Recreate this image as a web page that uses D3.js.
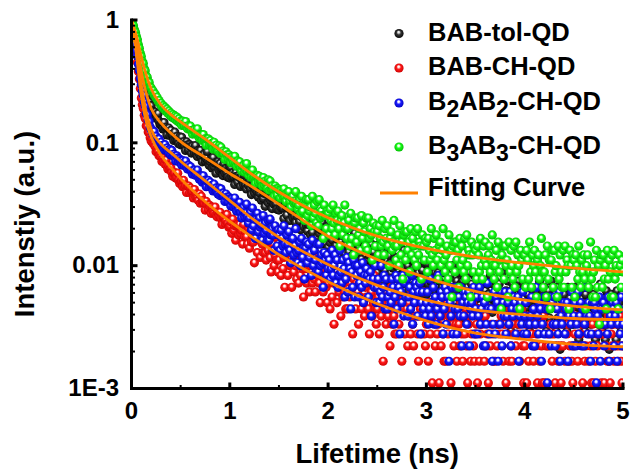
<!DOCTYPE html>
<html>
<head>
<meta charset="utf-8">
<script src="https://cdn.jsdelivr.net/npm/d3@7"></script>
<style>
body { margin: 0; background: #fff; }
svg text { font-family: "Liberation Sans", Arial, sans-serif; font-weight: bold; fill: #000; }
</style>
</head>
<body>
<svg id="chart" width="631" height="469"></svg>
<script>
// TCSPC channels, one every 0.01 ns from 0 to 5 ns
const timeNs = d3.range(501).map(i => +(i * 0.01).toFixed(2))

// photon counts per channel (first channel = peak)
const babTolCounts = [
  2400, 2205, 2051, 1853, 1707, 1539, 1399, 1246, 1133, 1009,
  917, 834, 778, 705, 661, 597, 575, 534, 515, 479,
  480, 436, 404, 428, 426, 382, 388, 415, 360, 337,
  342, 351, 311, 351, 309, 320, 278, 313, 316, 276,
  303, 279, 281, 251, 293, 256, 270, 253, 236, 268,
  231, 266, 234, 245, 232, 208, 244, 231, 211, 232,
  224, 198, 226, 211, 199, 228, 199, 186, 208, 194,
  208, 184, 168, 190, 195, 171, 180, 204, 170, 158,
  168, 177, 150, 182, 154, 164, 136, 163, 168, 143,
  163, 146, 150, 130, 162, 136, 149, 138, 126, 151,
  124, 151, 127, 137, 128, 110, 137, 128, 115, 130,
  125, 106, 128, 118, 109, 131, 110, 101, 117, 108,
  119, 102, 91, 108, 111, 94, 101, 119, 95, 87,
  94, 101, 82, 105, 85, 93, 73, 94, 98, 78,
  94, 82, 86, 70, 95, 76, 85, 77, 69, 88,
  68, 88, 71, 77, 71, 58, 80, 73, 62, 74,
  70, 56, 73, 66, 59, 77, 61, 54, 67, 60,
  68, 55, 47, 60, 63, 50, 56, 69, 51, 46,
  52, 56, 43, 60, 45, 51, 36, 53, 55, 41,
  53, 44, 47, 36, 54, 40, 48, 42, 36, 50,
  34, 49, 37, 43, 39, 30, 46, 42, 35, 44,
  39, 29, 42, 37, 33, 46, 35, 30, 41, 36,
  40, 31, 25, 35, 38, 29, 34, 44, 31, 27,
  30, 34, 24, 38, 27, 32, 21, 33, 36, 26,
  33, 27, 29, 21, 36, 25, 31, 27, 23, 35,
  21, 34, 24, 29, 25, 18, 31, 28, 22, 30,
  26, 18, 29, 25, 21, 32, 23, 19, 28, 24,
  28, 20, 16, 24, 26, 19, 23, 32, 21, 17,
  20, 24, 15, 27, 18, 22, 13, 23, 26, 17,
  24, 18, 21, 14, 26, 17, 22, 19, 15, 25,
  14, 25, 17, 21, 18, 12, 23, 20, 15, 21,
  19, 13, 21, 18, 15, 24, 16, 13, 21, 17,
  21, 15, 11, 18, 20, 13, 17, 24, 15, 12,
  15, 18, 11, 21, 13, 17, 9, 18, 20, 12,
  19, 14, 16, 10, 21, 13, 17, 14, 11, 20,
  11, 20, 13, 16, 14, 8, 18, 16, 11, 17,
  15, 10, 17, 14, 12, 20, 13, 10, 17, 14,
  18, 12, 8, 15, 17, 11, 14, 21, 12, 10,
  12, 15, 9, 18, 11, 14, 7, 15, 17, 10,
  16, 12, 13, 8, 18, 11, 15, 12, 9, 17,
  9, 18, 11, 14, 12, 7, 16, 13, 10, 15,
  13, 8, 15, 12, 10, 18, 11, 9, 15, 12,
  16, 10, 7, 13, 15, 9, 12, 18, 11, 8,
  11, 14, 7, 16, 9, 12, 5, 13, 15, 9,
  14, 10, 12, 7, 16, 9, 13, 11, 8, 15,
  8, 16, 10, 13, 11, 6, 14, 12, 8, 13,
  12, 7, 14, 11, 9, 16, 10, 8, 13, 11,
  14, 9, 6, 12, 13, 8, 11, 17, 9, 7,
  10, 13, 6, 15, 8, 11, 5, 12, 14, 8,
  13, 9, 11, 6, 15, 8, 12, 10, 7, 14,
  10
]

const babChCounts = [
  1800, 1598, 1437, 1240, 1091, 938, 814, 684, 596, 499,
  418, 367, 343, 302, 284, 248, 244, 221, 219, 198,
  186, 196, 178, 176, 168, 152, 162, 153, 141, 145,
  138, 127, 135, 127, 121, 130, 117, 110, 117, 110,
  113, 103, 96, 102, 103, 93, 95, 102, 89, 84,
  87, 88, 79, 89, 79, 81, 71, 80, 80, 71,
  77, 72, 73, 64, 75, 66, 69, 65, 61, 69,
  58, 66, 59, 61, 58, 51, 60, 56, 52, 56,
  54, 48, 54, 50, 48, 54, 47, 45, 49, 46,
  49, 44, 39, 45, 45, 40, 42, 47, 40, 37,
  38, 41, 33, 43, 35, 38, 29, 38, 39, 32,
  39, 33, 35, 27, 39, 31, 34, 31, 27, 36,
  25, 38, 28, 32, 28, 19, 33, 30, 23, 31,
  29, 21, 31, 27, 23, 33, 23, 20, 28, 24,
  29, 21, 16, 24, 27, 18, 22, 31, 20, 16,
  20, 24, 15, 26, 17, 21, 12, 22, 24, 15,
  23, 18, 19, 12, 24, 16, 21, 18, 14, 23,
  13, 23, 15, 19, 17, 10, 21, 17, 13, 19,
  18, 11, 19, 15, 13, 21, 14, 11, 17, 15,
  18, 13, 9, 15, 17, 11, 14, 20, 12, 9,
  13, 15, 8, 17, 10, 13, 6, 14, 16, 9,
  15, 11, 12, 7, 16, 10, 13, 11, 8, 15,
  8, 16, 10, 13, 11, 5, 14, 11, 8, 13,
  11, 6, 13, 10, 8, 15, 9, 7, 12, 10,
  13, 8, 5, 10, 11, 7, 9, 15, 8, 6,
  8, 10, 5, 12, 7, 9, 3, 10, 11, 6,
  10, 7, 8, 4, 12, 6, 9, 7, 5, 11,
  5, 11, 6, 9, 8, 3, 10, 8, 5, 9,
  8, 4, 9, 7, 5, 11, 6, 4, 9, 7,
  9, 5, 3, 7, 8, 5, 7, 11, 5, 4,
  6, 8, 3, 9, 5, 7, 2, 7, 9, 4,
  8, 5, 6, 2, 9, 4, 7, 5, 3, 9,
  3, 9, 5, 7, 6, 2, 8, 6, 4, 7,
  6, 3, 7, 6, 4, 9, 5, 3, 7, 5,
  8, 4, 2, 6, 7, 3, 5, 9, 4, 3,
  5, 6, 2, 8, 3, 5, 1, 6, 7, 3,
  7, 4, 5, 2, 8, 4, 6, 5, 3, 8,
  3, 8, 4, 6, 5, 1, 7, 5, 3, 6,
  6, 2, 7, 5, 3, 8, 4, 3, 6, 5,
  7, 4, 1, 5, 6, 3, 5, 8, 4, 2,
  4, 6, 2, 7, 3, 5, 1, 5, 7, 3,
  6, 4, 5, 2, 7, 3, 6, 4, 2, 7,
  2, 8, 4, 5, 4, 1, 6, 5, 3, 6,
  5, 2, 6, 4, 3, 8, 4, 2, 6, 4,
  7, 3, 1, 5, 6, 3, 4, 8, 3, 2,
  4, 5, 1, 7, 3, 5, 0, 5, 6, 2,
  6, 3, 4, 1, 7, 3, 5, 4, 2, 6,
  2, 7, 3, 5, 4, 1, 6, 5, 2, 5,
  5, 2, 6, 4, 3, 7, 3, 2, 5, 4,
  6, 3, 1, 4, 6, 3, 4, 7, 3, 2,
  4
]

const b2ab2Counts = [
  1800, 1611, 1470, 1296, 1170, 1027, 913, 786, 699, 601,
  536, 473, 439, 386, 359, 314, 304, 276, 268, 242,
  230, 229, 210, 222, 202, 203, 184, 194, 193, 175,
  182, 171, 171, 158, 174, 158, 163, 156, 148, 159,
  143, 156, 142, 145, 140, 128, 141, 135, 127, 133,
  129, 119, 129, 122, 117, 128, 116, 110, 118, 112,
  115, 106, 100, 106, 108, 98, 101, 108, 96, 91,
  94, 97, 86, 97, 87, 89, 79, 88, 89, 79,
  86, 80, 81, 73, 83, 74, 77, 73, 69, 77,
  67, 76, 68, 70, 67, 60, 69, 65, 60, 65,
  63, 55, 63, 59, 54, 64, 55, 50, 57, 52,
  59, 49, 44, 51, 54, 45, 48, 57, 45, 40,
  44, 49, 35, 53, 38, 43, 30, 44, 48, 34,
  44, 37, 39, 29, 46, 33, 40, 35, 29, 42,
  29, 43, 32, 36, 32, 24, 38, 34, 26, 35,
  32, 24, 35, 30, 26, 38, 27, 23, 32, 27,
  34, 24, 19, 29, 30, 22, 26, 36, 23, 19,
  24, 28, 18, 30, 21, 25, 14, 25, 28, 19,
  27, 21, 23, 15, 29, 18, 24, 20, 16, 27,
  16, 27, 18, 22, 19, 12, 23, 20, 15, 22,
  17, 20, 14, 17, 24, 15, 18, 22, 13, 20,
  12, 15, 24, 16, 13, 20, 17, 10, 14, 21,
  11, 19, 17, 8, 16, 12, 20, 10, 18, 15,
  18, 10, 13, 16, 12, 19, 9, 15, 13, 17,
  15, 10, 14, 16, 7, 13, 14, 12, 18, 9,
  12, 14, 9, 11, 18, 10, 12, 15, 8, 14,
  8, 10, 18, 11, 9, 14, 12, 6, 10, 15,
  8, 14, 12, 5, 11, 9, 15, 7, 13, 10,
  14, 7, 10, 12, 8, 15, 6, 11, 9, 13,
  12, 7, 11, 13, 5, 9, 11, 8, 14, 7,
  9, 11, 6, 8, 14, 7, 9, 12, 6, 10,
  6, 8, 15, 9, 7, 11, 10, 5, 8, 12,
  6, 11, 10, 3, 9, 7, 12, 5, 10, 8,
  12, 5, 8, 10, 7, 12, 4, 9, 7, 11,
  10, 6, 9, 11, 4, 8, 9, 7, 12, 5,
  8, 10, 5, 7, 12, 6, 8, 10, 4, 9,
  4, 6, 13, 8, 5, 10, 8, 3, 6, 11,
  5, 10, 9, 3, 8, 6, 11, 4, 9, 7,
  11, 5, 7, 9, 6, 11, 4, 8, 7, 10,
  9, 5, 8, 10, 3, 7, 9, 6, 11, 5,
  7, 9, 5, 6, 12, 6, 7, 10, 4, 8,
  4, 6, 12, 7, 5, 9, 8, 3, 6, 10,
  5, 10, 8, 2, 8, 5, 10, 4, 9, 6,
  10, 4, 6, 8, 5, 11, 3, 7, 6, 9,
  9, 5, 8, 9, 3, 7, 8, 6, 11, 4,
  7, 9, 4, 6, 11, 5, 7, 9, 4, 8,
  4, 6, 12, 7, 5, 9, 7, 3, 5, 9,
  4, 9, 8, 2, 7, 5, 10, 3, 8, 6,
  9, 4, 6, 8, 5, 10, 3, 7, 6, 9,
  8, 4, 7, 9, 3, 6, 8, 5, 10, 4,
  6
]

const b3ab3Counts = [
  900, 846, 809, 748, 716, 661, 622, 566, 531, 482,
  455, 414, 398, 361, 347, 314, 308, 283, 279, 256,
  252, 236, 238, 221, 225, 209, 212, 196, 199, 186,
  189, 176, 181, 170, 175, 163, 169, 157, 163, 152,
  157, 146, 153, 143, 149, 139, 146, 135, 141, 131,
  135, 125, 135, 128, 124, 134, 122, 117, 124, 119,
  123, 113, 106, 114, 115, 106, 108, 117, 104, 98,
  102, 105, 94, 105, 95, 97, 86, 96, 97, 87,
  94, 88, 89, 80, 91, 81, 86, 81, 77, 85,
  74, 83, 75, 77, 74, 66, 76, 72, 67, 72,
  69, 62, 69, 65, 62, 70, 62, 58, 64, 60,
  63, 56, 53, 58, 59, 52, 55, 61, 52, 49,
  52, 53, 47, 54, 47, 48, 42, 48, 49, 43,
  48, 44, 44, 40, 47, 41, 44, 42, 38, 45,
  37, 44, 38, 40, 38, 33, 40, 38, 34, 38,
  37, 32, 37, 35, 33, 38, 33, 30, 35, 33,
  36, 30, 27, 32, 33, 29, 30, 36, 29, 26,
  28, 31, 24, 33, 25, 29, 21, 29, 31, 23,
  31, 25, 27, 19, 33, 22, 28, 24, 20, 30,
  19, 31, 22, 25, 23, 15, 28, 23, 18, 25,
  24, 16, 26, 21, 18, 28, 20, 16, 24, 21,
  25, 18, 13, 21, 23, 16, 20, 28, 18, 15,
  18, 21, 13, 24, 15, 19, 11, 20, 22, 14,
  22, 16, 18, 12, 23, 15, 20, 17, 13, 22,
  12, 22, 15, 18, 16, 10, 20, 17, 13, 19,
  17, 11, 19, 15, 13, 21, 14, 11, 18, 15,
  19, 13, 9, 15, 17, 12, 14, 21, 13, 10,
  13, 16, 9, 19, 11, 14, 7, 16, 17, 10,
  17, 12, 14, 8, 18, 11, 15, 13, 10, 17,
  9, 18, 11, 14, 13, 7, 16, 13, 10, 15,
  14, 8, 15, 12, 10, 18, 11, 9, 15, 12,
  16, 10, 7, 13, 14, 9, 12, 18, 10, 8,
  11, 13, 7, 16, 9, 12, 5, 13, 14, 8,
  14, 10, 12, 6, 15, 9, 13, 10, 8, 15,
  7, 16, 9, 12, 11, 5, 14, 11, 8, 13,
  12, 7, 13, 11, 8, 15, 9, 7, 13, 10,
  14, 9, 5, 11, 13, 8, 10, 16, 9, 7,
  9, 12, 6, 14, 8, 10, 4, 11, 13, 7,
  13, 9, 10, 5, 14, 8, 12, 9, 7, 13,
  6, 14, 8, 11, 9, 4, 12, 10, 7, 11,
  11, 6, 12, 10, 7, 14, 8, 6, 11, 9,
  12, 8, 5, 10, 11, 7, 9, 15, 8, 6,
  8, 11, 5, 13, 7, 10, 4, 10, 12, 6,
  12, 8, 9, 5, 13, 7, 11, 8, 6, 12,
  6, 13, 8, 10, 9, 4, 12, 9, 6, 11,
  10, 5, 11, 9, 7, 13, 8, 6, 10, 8,
  11, 7, 4, 9, 11, 6, 8, 14, 7, 5,
  8, 10, 5, 12, 6, 9, 3, 10, 11, 6,
  11, 7, 9, 4, 12, 7, 10, 8, 5, 11,
  5, 12, 7, 9, 8, 4, 11, 9, 6, 10,
  8
]

// fitted decay curves, log10 of normalised intensity at these times
const fitTimes = [0, 0.02, 0.05, 0.1, 0.15, 0.2, 0.3, 0.4, 0.5, 0.75, 1, 1.25, 1.5, 2, 2.5, 3, 3.5, 4, 4.5, 5]
const babTolFitLog = [0, -0.07, -0.19, -0.42, -0.60, -0.72, -0.84, -0.92, -0.99, -1.12, -1.25, -1.37, -1.50, -1.76, -1.95, -2.10, -2.21, -2.28, -2.33, -2.36]
const babChFitLog = [0, -0.10, -0.28, -0.62, -0.83, -0.95, -1.10, -1.20, -1.29, -1.48, -1.64, -1.78, -1.91, -2.13, -2.31, -2.45, -2.55, -2.60, -2.64, -2.66]
const b2ab2FitLog = [0, -0.09, -0.24, -0.53, -0.75, -0.89, -1.01, -1.08, -1.15, -1.31, -1.47, -1.63, -1.77, -1.99, -2.16, -2.28, -2.36, -2.40, -2.43, -2.44]
const b3ab3FitLog = [0, -0.05, -0.13, -0.30, -0.45, -0.56, -0.69, -0.77, -0.83, -0.97, -1.12, -1.27, -1.40, -1.61, -1.76, -1.86, -1.93, -1.98, -2.02, -2.05]

const seriesNames = ["BAB-tol-QD", "BAB-CH-QD", "B_2AB_2-CH-QD", "B_3AB_3-CH-QD"]
const seriesCounts = [babTolCounts, babChCounts, b2ab2Counts, b3ab3Counts]
const fitData = [babTolFitLog, babChFitLog, b2ab2FitLog, b3ab3FitLog]
const fitLabel = "Fitting Curve"

const xTickValues = [0, 1, 2, 3, 4, 5]
const xMinorValues = [0.5, 1.5, 2.5, 3.5, 4.5]
const yTickValues = [0.001, 0.01, 0.1, 1]
const yTickLabels = ["1E-3", "0.01", "0.1", "1"]
const yMinorValues = [0.001, 0.01, 0.1].flatMap(d => [2, 3, 4, 5, 6, 7, 8, 9].map(k => +(d * k).toPrecision(2)))

// styles
const colors = ["#000000", "#ff0000", "#0000ff", "#00ff00"]
const shades = [
    ["#d8d8d8", "#333333", "#000000"],
    ["#ffe8e8", "#ff1a1a", "#c80000"],
    ["#eeeeff", "#1a1aff", "#0000b4"],
    ["#f2fff2", "#1aff1a", "#00b400"]
]
const fitColor = "#ff8000"
const r = 4.6

var svg = d3.select("#chart")

var x = d3.scaleLinear().domain([0, 5]).range([131.5, 623])
var y = d3.scaleLog().domain([0.001, 1]).range([388.5, 20])

// sphere shading
var defs = svg.append("defs")
colors.forEach((c, i) => {
    var g = defs.append("radialGradient")
        .attr("id", "ball" + i)
        .attr("cx", "50%").attr("cy", "50%").attr("r", "55%")
        .attr("fx", "45%").attr("fy", "32%")
    g.append("stop").attr("offset", "0%").attr("stop-color", "#ffffff")
    g.append("stop").attr("offset", "18%").attr("stop-color", shades[i][0])
    g.append("stop").attr("offset", "45%").attr("stop-color", shades[i][1])
    g.append("stop").attr("offset", "100%").attr("stop-color", shades[i][2])
})

defs.append("clipPath").attr("id", "plot-clip")
    .append("rect")
    .attr("x", x(0)).attr("y", y(1))
    .attr("width", x(5) - x(0)).attr("height", y(0.001) - y(1))

var plot = svg.append("g").attr("clip-path", "url(#plot-clip)")

// points: black, red, blue, green (green ends up on top)
// empty channels have no point on a log axis
seriesCounts.forEach((counts, i) => {
    var peak = d3.max(counts)
    var pts = counts.map((c, j) => [timeNs[j], c / peak]).filter(d => d[1] > 0)
    plot.append("g")
        .selectAll("circle")
        .data(pts)
        .enter()
        .append("circle")
        .attr("cx", d => x(d[0]))
        .attr("cy", d => y(d[1]))
        .attr("r", r)
        .attr("fill", "url(#ball" + i + ")")
})

var line = d3.line()
    .x(d => x(d[0]))
    .y(d => y(d[1]))
    .curve(d3.curveMonotoneX)

fitData.forEach(vals => {
    plot.append("path")
        .datum(vals.map((v, j) => [fitTimes[j], Math.pow(10, v)]))
        .attr("d", line)
        .attr("fill", "none")
        .attr("stroke", fitColor)
        .attr("stroke-width", 2.8)
})

// axes
function styleAxis(g, size) {
    g.attr("font-family", null).attr("font-size", null)
    g.selectAll("text").style("font-size", size + "px")
    g.selectAll(".domain").attr("stroke-width", 3).attr("stroke-linecap", "square")
}

svg.append("g")
    .attr("transform", `translate(${x(0)},0)`)
    .call(d3.axisLeft(y).tickValues(yMinorValues).tickFormat("").tickSize(-3.5).tickSizeOuter(0).offset(0))
    .call(g => g.select(".domain").remove())
    .call(g => g.selectAll("line").attr("stroke-width", 2))

svg.append("g")
    .attr("transform", `translate(0,${y(0.001)})`)
    .call(d3.axisBottom(x).tickValues(xMinorValues).tickFormat("").tickSize(-3.5).tickSizeOuter(0).offset(0))
    .call(g => g.select(".domain").remove())
    .call(g => g.selectAll("line").attr("stroke-width", 2))

svg.append("g")
    .attr("transform", `translate(${x(0)},0)`)
    .call(d3.axisLeft(y).tickValues(yTickValues).tickFormat((d, i) => yTickLabels[i])
        .tickSize(-6).tickSizeOuter(0).tickPadding(12.5).offset(0))
    .call(g => styleAxis(g, 24))
    .call(g => g.selectAll(".tick line").attr("stroke-width", 3))

svg.append("g")
    .attr("transform", `translate(0,${y(0.001)})`)
    .call(d3.axisBottom(x).tickValues(xTickValues).tickFormat(d3.format("d"))
        .tickSize(-6).tickSizeOuter(0).tickPadding(13).offset(0))
    .call(g => styleAxis(g, 24))
    .call(g => g.selectAll(".tick line").attr("stroke-width", 3))

// axis titles
svg.append("text")
    .attr("x", (x(0) + x(5)) / 2)
    .attr("y", 463)
    .attr("text-anchor", "middle")
    .style("font-size", "27.5px")
    .text("Lifetime (ns)")

svg.append("text")
    .attr("transform", "translate(34,224) rotate(-90)")
    .attr("text-anchor", "middle")
    .style("font-size", "27.5px")
    .text("Intenstiy (a.u.)")

// legend
const legendRows = [33.5, 68, 103, 147]
const legend = svg.append("g")

seriesNames.forEach((name, i) => {
    var rowY = legendRows[i]
    legend.append("circle")
        .attr("cx", 399).attr("cy", rowY).attr("r", r)
        .attr("fill", "url(#ball" + i + ")")
    var t = legend.append("text")
        .attr("x", 428).attr("y", rowY + 7)
        .style("font-size", "25.5px")
    // "_2" marks a subscript digit
    var shift = 0
    name.split(/(_\d)/).filter(s => s.length).forEach(part => {
        if (part[0] === "_") {
            t.append("tspan").attr("dy", 7 - shift).style("font-size", "23px").text(part.slice(1))
            shift = 7
        } else {
            t.append("tspan").attr("dy", -shift).text(part)
            shift = 0
        }
    })
})

legend.append("line")
    .attr("x1", 380).attr("x2", 418)
    .attr("y1", 193).attr("y2", 193)
    .attr("stroke", fitColor).attr("stroke-width", 3)

legend.append("text")
    .attr("x", 428).attr("y", 196)
    .style("font-size", "25.5px")
    .text(fitLabel)
</script>
</body>
</html>
